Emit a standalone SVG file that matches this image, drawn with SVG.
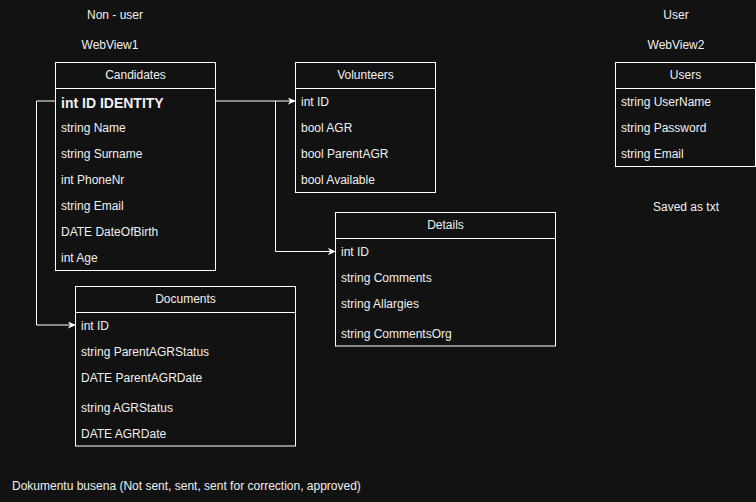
<svg xmlns="http://www.w3.org/2000/svg" width="756" height="502" viewBox="0 0 756 502">
<defs>
<marker id="arr" viewBox="0 0 10 10" refX="9" refY="5" markerWidth="8" markerHeight="7" markerUnits="userSpaceOnUse" orient="auto" preserveAspectRatio="none">
<path d="M0,0 L10,5 L0,10 L3,5 Z" fill="#ffffff"/>
</marker>
</defs>
<style>
text{font-family:"Liberation Sans",Arial,sans-serif;font-size:12px;fill:#f0f0f0;}
.c{text-anchor:middle;}
.b{font-weight:bold;font-size:14px;}
.box{fill:#121212;stroke:#ffffff;stroke-width:1;}
.ln{stroke:#ffffff;stroke-width:1;fill:none;}
.con{stroke:#ffffff;stroke-width:1;fill:none;}
</style>
<rect width="756" height="502" fill="#121212"/>
<g id="labels">
<text class="c" x="115" y="19">Non - user</text>
<text class="c" x="110" y="49">WebView1</text>
<text class="c" x="676" y="19">User</text>
<text class="c" x="676" y="49">WebView2</text>
<text class="c" x="686" y="211">Saved as txt</text>
<text x="12" y="490">Dokumentu busena (Not sent, sent, sent for correction, approved)</text>
</g>
<g id="connectors">
<path class="con" d="M215.5,101 L295,101" marker-end="url(#arr)"/>
<path class="con" d="M275.5,101 L275.5,251.5 L335,251.5" marker-end="url(#arr)"/>
<path class="con" d="M55.5,101 L36.5,101 L36.5,325 L75,325" marker-end="url(#arr)"/>
</g>
<g id="candidates">
<rect class="box" x="55.5" y="62.5" width="160" height="208"/>
<line class="ln" x1="55.5" y1="88.5" x2="215.5" y2="88.5"/>
<text class="c" x="135.5" y="79">Candidates</text>
<text class="b" x="61" y="108">int ID IDENTITY</text>
<text x="61" y="132">string Name</text>
<text x="61" y="158">string Surname</text>
<text x="61" y="184">int PhoneNr</text>
<text x="61" y="210">string Email</text>
<text x="61" y="236">DATE DateOfBirth</text>
<text x="61" y="262">int Age</text>
</g>
<g id="volunteers">
<rect class="box" x="295.5" y="62.5" width="140" height="130"/>
<line class="ln" x1="295.5" y1="88.5" x2="435.5" y2="88.5"/>
<text class="c" x="365.5" y="79">Volunteers</text>
<text x="301" y="106">int ID</text>
<text x="301" y="132">bool AGR</text>
<text x="301" y="158">bool ParentAGR</text>
<text x="301" y="184">bool Available</text>
</g>
<g id="details">
<rect class="box" x="335.5" y="212.5" width="220" height="133.5"/>
<line class="ln" x1="335.5" y1="238.5" x2="555.5" y2="238.5"/>
<text class="c" x="445.5" y="229">Details</text>
<text x="341" y="256">int ID</text>
<text x="341" y="282">string Comments</text>
<text x="341" y="308">string Allargies</text>
<text x="341" y="338">string CommentsOrg</text>
</g>
<g id="documents">
<rect class="box" x="75.5" y="286.5" width="220" height="159.5"/>
<line class="ln" x1="75.5" y1="312.5" x2="295.5" y2="312.5"/>
<text class="c" x="185.5" y="303">Documents</text>
<text x="81" y="330">int ID</text>
<text x="81" y="356">string ParentAGRStatus</text>
<text x="81" y="382">DATE ParentAGRDate</text>
<text x="81" y="412">string AGRStatus</text>
<text x="81" y="438">DATE AGRDate</text>
</g>
<g id="users">
<rect class="box" x="615.5" y="62.5" width="140" height="104"/>
<line class="ln" x1="615.5" y1="88.5" x2="755.5" y2="88.5"/>
<text class="c" x="685.5" y="79">Users</text>
<text x="621" y="106">string UserName</text>
<text x="621" y="132">string Password</text>
<text x="621" y="158">string Email</text>
</g>
</svg>
